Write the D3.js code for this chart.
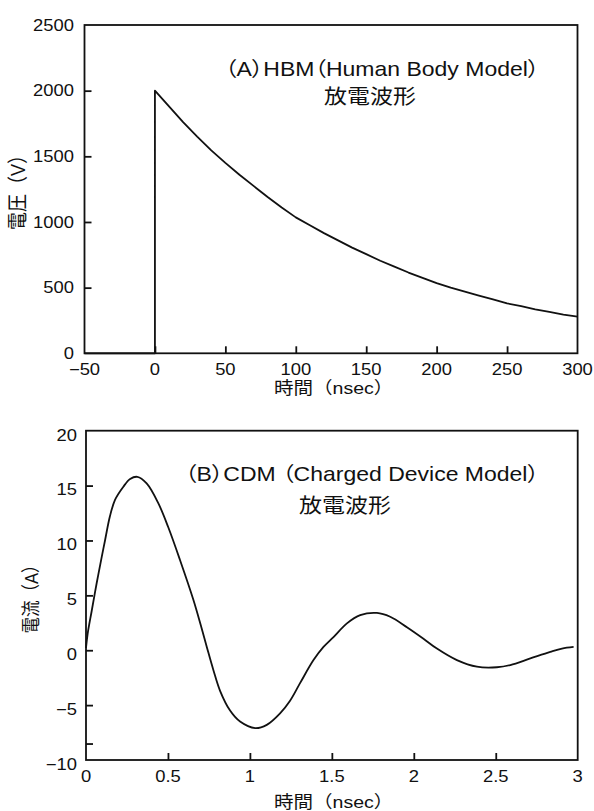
<!DOCTYPE html>
<html><head><meta charset="utf-8">
<script src="https://cdn.jsdelivr.net/npm/d3@7"></script>
<style>
html,body{margin:0;padding:0;background:#fff;}
svg text{font-family:"Liberation Sans","Noto Sans CJK JP",sans-serif;fill:#111;}
</style></head>
<body>
<svg id="c" width="594" height="811"></svg>
<script>
// ---------- Data: (A) HBM ----------
const hbmTime = [-50, 0, 0, 10, 20, 30, 40, 50, 60, 70, 80, 90, 100, 110, 120, 130, 140, 150, 160, 170, 180, 190, 200, 210, 220, 230, 240, 250, 260, 270, 280, 290, 300];
const hbmVolt = [0, 0, 2000, 1880, 1760, 1650, 1545, 1450, 1360, 1275, 1190, 1110, 1035, 975, 915, 860, 805, 755, 705, 660, 615, 575, 535, 500, 470, 440, 410, 380, 360, 335, 315, 295, 280];
const hbmXTickMarks = [0, 50, 100, 150, 200, 250];
const hbmXTickLabels = [-50, 0, 50, 100, 150, 200, 250, 300];
const hbmYTickMarks = [500, 1000, 1500, 2000];
const hbmYTickLabels = [0, 500, 1000, 1500, 2000, 2500];

// ---------- Data: (B) CDM ----------
const cdmTime = [0.000, 0.010, 0.035, 0.065, 0.096, 0.116, 0.146, 0.177, 0.228, 0.269, 0.313, 0.370, 0.441, 0.502, 0.574, 0.655, 0.700, 0.737, 0.777, 0.818, 0.879, 0.940, 1.032, 1.103, 1.184, 1.245, 1.306, 1.388, 1.449, 1.510, 1.592, 1.673, 1.775, 1.856, 1.958, 2.059, 2.141, 2.263, 2.385, 2.507, 2.589, 2.711, 2.833, 2.904, 2.975];
const cdmCurrent = [0.2, 1.5, 3.6, 6.1, 8.5, 10.0, 12.2, 13.7, 14.9, 15.6, 15.8, 15.2, 13.4, 11.2, 8.2, 4.6, 2.3, 0.3, -1.8, -3.7, -5.5, -6.5, -7.1, -6.8, -5.75, -4.6, -3.0, -0.9, 0.3, 1.2, 2.45, 3.2, 3.4, 3.05, 2.1, 1.05, 0.15, -0.9, -1.5, -1.55, -1.35, -0.75, -0.15, 0.15, 0.3];
const cdmXTickMarks = [0.5, 1, 1.5, 2, 2.5];
const cdmXTickLabels = [0, 0.5, 1, 1.5, 2, 2.5, 3];
const cdmYTickMarks = [-8.5, -5, 0, 5, 10, 15];
const cdmYTickLabels = [-10, -5, 0, 5, 10, 15, 20];

// ---------- Text ----------
const hbmTitle1 = "（A）HBM（Human Body Model）";
const cdmTitle1 = "（B）CDM （Charged Device Model）";
const title2 = "放電波形";
const xTitle = "時間（nsec）";
const hbmYTitle = "電圧（V）";
const cdmYTitle = "電流（A）";

const svg = d3.select("#c");
const SX = 1.15;
const fmt = v => (v < 0 ? "\u2212" + Math.abs(v) : String(v));

function label(x, y, str, size, anchor, palt) {
  const t = svg.append("text")
    .attr("transform", `translate(${x},${y}) scale(${SX},1)`)
    .attr("text-anchor", anchor || "start")
    .style("font-size", size + "px")
    .text(str);
  if (palt) t.style("font-feature-settings", "'palt' 1");
  return t;
}
function vlabel(x, y, str, size) {
  svg.append("text")
    .attr("transform", `translate(${x},${y}) rotate(-90) scale(1,${SX})`)
    .attr("text-anchor", "middle")
    .style("font-size", size + "px")
    .text(str);
}

function panel(cfg) {
  const x = d3.scaleLinear().domain(cfg.xDomain).range([cfg.left, cfg.right]);
  const y = d3.scaleLinear().domain(cfg.yDomain).range([cfg.bottom, cfg.top]);
  const g = svg.append("g");

  // inward ticks
  g.append("g").attr("transform", `translate(0,${cfg.bottom})`)
    .call(d3.axisBottom(x).tickValues(cfg.xMarks).tickSize(-7).tickFormat(""))
    .call(a => { a.select(".domain").remove(); a.selectAll("line").attr("stroke", "#111").attr("stroke-width", 1.8); });
  g.append("g").attr("transform", `translate(${cfg.left},0)`)
    .call(d3.axisLeft(y).tickValues(cfg.yMarks).tickSize(-7).tickFormat(""))
    .call(a => { a.select(".domain").remove(); a.selectAll("line").attr("stroke", "#111").attr("stroke-width", 1.8); });

  // frame
  g.append("rect").attr("x", cfg.left).attr("y", cfg.top)
    .attr("width", cfg.right - cfg.left).attr("height", cfg.bottom - cfg.top)
    .attr("fill", "none").attr("stroke", "#111").attr("stroke-width", 1.8);

  // data line
  const pts = cfg.xs.map((t, i) => [t, cfg.ys[i]]);
  g.append("path").datum(pts)
    .attr("d", d3.line().x(d => x(d[0])).y(d => y(d[1])).curve(cfg.curve))
    .attr("fill", "none").attr("stroke", "#111").attr("stroke-width", 1.8)
    .attr("stroke-linejoin", "round");

  // tick labels
  cfg.xLabels.forEach(v => label(x(v), cfg.bottom + cfg.xLabelDy, fmt(v), 16, "middle"));
  cfg.yLabels.forEach(v => label(cfg.left - cfg.yLabelGap, y(v) + cfg.yLabelDy, fmt(v), 16, "end"));
  return { x, y };
}

panel({
  xDomain: [-50, 300], yDomain: [0, 2500],
  left: 84.5, right: 577.5, top: 25, bottom: 353.3,
  xMarks: hbmXTickMarks, yMarks: hbmYTickMarks,
  xLabels: hbmXTickLabels, yLabels: hbmYTickLabels,
  xs: hbmTime, ys: hbmVolt, curve: d3.curveLinear,
  xLabelDy: 21.5, yLabelGap: 10.5, yLabelDy: 5.8
});
panel({
  xDomain: [0, 3], yDomain: [-10, 20],
  left: 86, right: 577.7, top: 430.7, bottom: 760,
  xMarks: cdmXTickMarks, yMarks: cdmYTickMarks,
  xLabels: cdmXTickLabels, yLabels: cdmYTickLabels,
  xs: cdmTime, ys: cdmCurrent, curve: d3.curveCatmullRom.alpha(0.5),
  xLabelDy: 22, yLabelGap: 9, yLabelDy: 9.8
});

// annotations
label(225, 76, hbmTitle1, 20, "start", true);
label(324, 104, title2, 20, "start", true);
label(185, 481, cdmTitle1, 20, "start", true);
label(299, 513, title2, 20, "start", true);

// axis titles
label(274, 394, xTitle, 17);
label(274, 808, xTitle, 17);
vlabel(25, 188, hbmYTitle, 18);
vlabel(38, 595, cdmYTitle, 16.5);
</script>
</body></html>
